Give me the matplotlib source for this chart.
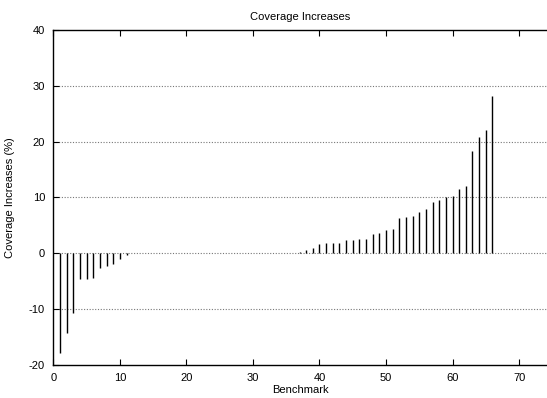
import numpy as np
import matplotlib
matplotlib.use("Agg")
import matplotlib.pyplot as plt

plt.rcParams['font.family'] = ['Liberation Sans', 'DejaVu Sans']
plt.rcParams['axes.unicode_minus'] = False

# benchmark index and coverage increase (%)
benchmarks = list(range(1, 67))
increases = [
    -17.8, -14.3, -10.7, -4.6, -4.6, -4.5, -2.7, -2.2, -2.0, -1.1,
    -0.3, 0.0, 0.0, 0.0, 0.0, 0.0, 0.0, 0.0, 0.0, 0.0,
    0.0, 0.0, 0.0, 0.0, 0.0, 0.0, 0.0, 0.0, 0.0, 0.0,
    0.0, 0.0, 0.0, 0.0, 0.0, 0.0, 0.2, 0.6, 0.9, 1.6,
    1.8, 1.9, 1.9, 2.3, 2.3, 2.6, 2.6, 3.5, 3.6, 4.2,
    4.4, 6.3, 6.5, 6.7, 7.4, 7.9, 9.2, 9.6, 10.0, 10.2,
    11.5, 12.1, 18.3, 20.8, 22.0, 28.2,
]
x_ticks = [0, 10, 20, 30, 40, 50, 60, 70]
y_ticks = [-20, -10, 0, 10, 20, 30, 40]

fig = plt.figure(figsize=(5.47, 3.98), dpi=100)
ax = fig.add_axes([0.0975, 0.083, 0.9025, 0.8416])

ax.vlines(benchmarks, 0, increases, color='black', lw=1.0, zorder=3)

ax.set_xlim(0, 74.2)
ax.set_ylim(-20, 40)
ax.set_xticks(x_ticks)
ax.set_yticks(y_ticks)
ax.tick_params(direction='in', length=4, width=0.8, labelsize=8,
               top=True, right=False, pad=6)
ax.spines['right'].set_visible(False)
for s in ['left', 'bottom', 'top']:
    ax.spines[s].set_linewidth(1.0)

# dotted horizontal grid only
for yv in [-10, 0, 10, 20, 30]:
    ax.axhline(yv, color='#777777', lw=0.8, linestyle=(0, (1, 1.5)), zorder=1)

ax.set_title('Coverage Increases', fontsize=8, pad=7)
ax.set_xlabel('Benchmark', fontsize=8, labelpad=1)
ax.set_ylabel('Coverage Increases (%)', fontsize=8, labelpad=10)

fig.savefig('out.png', dpi=100)
